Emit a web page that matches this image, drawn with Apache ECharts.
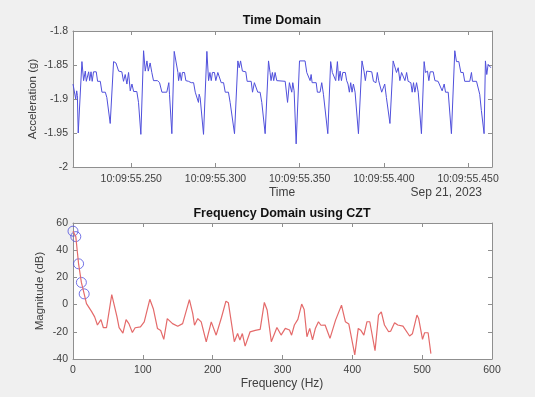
<!DOCTYPE html>
<html>
<head>
<meta charset="utf-8">
<script src="https://cdn.jsdelivr.net/npm/echarts@6/dist/echarts.min.js"></script>
<style>
  html, body { margin: 0; padding: 0; background: #f0f0f0; }
  #chart { width: 535px; height: 397px; }
</style>
</head>
<body>
<div id="chart"></div>
<script>
// time domain: ms after 10:09:55.000 and acceleration (g)
var timeMs = [
  215.4, 216.2, 217.0, 217.6, 218.0, 218.5, 220.7, 221.7, 222.7, 223.3, 224.7, 225.3, 226.1, 226.8, 227.6, 229.2,
  230.0, 231.6, 232.6, 234.6, 235.5, 237.5, 239.5, 240.9, 242.5, 244.4, 245.4, 246.4, 247.4, 248.4, 249.4, 250.4,
  251.4, 253.3, 254.3, 255.7, 257.3, 258.3, 259.3, 260.1, 261.2, 262.2, 263.2, 265.6, 266.8, 268.2, 271.1, 272.3,
  272.7, 274.1, 275.5, 277.7, 278.1, 278.9, 279.7, 280.4, 281.6, 282.4, 284.0, 285.6, 287.0, 288.0, 289.1, 289.9,
  290.3, 290.9, 292.9, 294.9, 295.9, 296.7, 297.5, 298.2, 299.4, 300.2, 301.4, 302.4, 303.4, 304.8, 305.8, 307.7,
  308.7, 311.3, 313.3, 314.1, 314.9, 316.0, 318.0, 318.8, 321.2, 322.0, 323.1, 324.1, 325.1, 326.5, 327.5, 329.5,
  331.5, 332.4, 333.0, 333.8, 334.6, 335.4, 336.4, 341.4, 342.0, 342.8, 343.9, 345.3, 345.9, 346.7, 347.9, 349.9,
  353.2, 354.2, 355.2, 356.2, 356.8, 357.4, 359.8, 360.5, 362.1, 363.1, 364.1, 366.7, 368.4, 369.4, 370.4, 371.4,
  372.4, 373.2, 374.0, 374.8, 375.6, 377.1, 377.9, 378.7, 379.5, 380.3, 381.1, 381.9, 382.9, 384.9, 387.0, 388.2,
  389.0, 389.8, 392.8, 393.8, 395.3, 396.1, 396.9, 397.7, 398.7, 399.7, 400.5, 401.5, 403.6, 405.5, 406.5, 407.5,
  408.5, 409.5, 410.5, 411.5, 412.5, 413.5, 414.4, 416.0, 416.8, 417.6, 418.4, 419.4, 420.4, 422.3, 423.9, 424.7,
  425.9, 426.7, 427.5, 429.3, 430.3, 432.2, 433.2, 434.6, 435.8, 436.6, 438.2, 440.1, 442.1, 443.1, 444.5, 445.7,
  447.1, 448.0, 451.0, 452.0, 452.6, 455.0, 456.0, 456.9, 457.9, 459.5, 460.3, 461.1, 461.9, 463.5
];
var accel = [
  -1.878, -1.876, -1.900, -1.888, -1.895, -1.950, -1.845, -1.873, -1.859, -1.874, -1.860, -1.873, -1.860, -1.874, -1.860, -1.860,
  -1.874, -1.874, -1.890, -1.890, -1.898, -1.936, -1.845, -1.847, -1.859, -1.860, -1.874, -1.864, -1.878, -1.861, -1.888, -1.878,
  -1.889, -1.889, -1.905, -1.952, -1.829, -1.859, -1.844, -1.859, -1.847, -1.861, -1.873, -1.873, -1.876, -1.890, -1.890, -1.876,
  -1.893, -1.951, -1.830, -1.861, -1.873, -1.861, -1.873, -1.861, -1.861, -1.873, -1.874, -1.876, -1.876, -1.890, -1.890, -1.905,
  -1.893, -1.898, -1.952, -1.830, -1.873, -1.861, -1.873, -1.861, -1.861, -1.873, -1.861, -1.861, -1.876, -1.876, -1.890, -1.890,
  -1.905, -1.951, -1.844, -1.854, -1.844, -1.859, -1.860, -1.874, -1.874, -1.890, -1.876, -1.876, -1.890, -1.890, -1.905, -1.951,
  -1.844, -1.861, -1.873, -1.861, -1.873, -1.861, -1.873, -1.874, -1.876, -1.905, -1.876, -1.890, -1.876, -1.888, -1.966, -1.844,
  -1.844, -1.861, -1.861, -1.873, -1.864, -1.876, -1.876, -1.890, -1.890, -1.876, -1.893, -1.951, -1.845, -1.861, -1.861, -1.873,
  -1.845, -1.873, -1.859, -1.873, -1.861, -1.861, -1.873, -1.878, -1.890, -1.876, -1.890, -1.878, -1.890, -1.951, -1.844, -1.859,
  -1.873, -1.859, -1.860, -1.874, -1.876, -1.861, -1.873, -1.874, -1.890, -1.890, -1.878, -1.898, -1.936, -1.844, -1.845, -1.861,
  -1.854, -1.873, -1.861, -1.861, -1.873, -1.861, -1.874, -1.876, -1.890, -1.876, -1.890, -1.876, -1.890, -1.951, -1.845, -1.861,
  -1.859, -1.873, -1.860, -1.860, -1.873, -1.874, -1.876, -1.888, -1.878, -1.890, -1.890, -1.951, -1.829, -1.845, -1.845, -1.861,
  -1.861, -1.874, -1.874, -1.861, -1.874, -1.874, -1.876, -1.893, -1.917, -1.951, -1.844, -1.864, -1.849, -1.854
];
var timeTicks = [250, 300, 350, 400, 450];

// frequency domain (CZT): Hz and dB
var freqHz = [
  0, 4, 8, 12, 16, 19.3, 26.5, 31, 35, 40, 43.5, 48, 55.5, 63, 66, 71.5, 76, 80, 85, 89, 96.6, 102, 110, 115, 121,
  125.6, 130, 135, 142.5, 150, 157, 166.7, 171.5, 174, 178.7, 183.6, 190.8, 198, 205, 212.6, 219, 222.5, 231, 235.7,
  239, 242.5, 246.5, 253.6, 261, 268, 274, 278, 284, 292, 298, 304, 310, 313, 317, 322, 327.5, 331, 335, 339, 343,
  347, 351.5, 355, 361, 368, 376, 384.5, 390, 395, 403.5, 408.5, 412, 416.5, 421, 425, 432.5, 437.5, 441.5, 446,
  452, 455, 460.5, 465, 472.5, 482, 486, 492.5, 495, 500.5, 503.5, 508.5, 512.5
];
var magDb = [
  54, 50, 30, 16.3, 7.9, 0.7, -5, -9, -15, -11, -17, -17, 7.3, -9, -17, -21, -11, -14, -20.5, -17, -16.4, -12.7, 3.9, -3, -17.6,
  -19, -25.6, -10.3, -14, -15.9, -14, 3.7, -6.6, -15.2, -10.3, -12.7, -27.4, -12.7, -22.5, -9.5, 2.5, 1.3, -27.3, -21.3,
  -26, -21.3, -30.5, -20, -19, -18.2, 1.6, -4, -27.3, -16.8, -22.4, -17.5, -18.7, -22.5, -15, -10.9, 0.4, -3.6, -23.6, -17.5, -26,
  -17.6, -12.6, -15.2, -15, -24.8, -11.4, -0.4, -12.6, -14.3, -37, -17.5, -18.8, -22.4, -12.6, -12.6, -33.9, -7.7, -5.3, -15,
  -20, -19.5, -13.3, -15, -15.8, -23.1, -21.5, -7.7, -10.3, -25.6, -20.7, -20.7, -36
];
var markedCount = 5; // first CZT bins circled

var gray = '#8f8f8f';
var textCol = '#404040';
var font = 'Liberation Sans';

function boxAxis(extra) {
  var a = {
    axisLine: { show: true, onZero: false, lineStyle: { color: gray, width: 1 } },
    axisTick: { show: true, inside: true, length: 4, lineStyle: { color: gray } },
    axisLabel: { show: false },
    splitLine: { show: false }
  };
  for (var k in extra) a[k] = extra[k];
  return a;
}

var chart = echarts.init(document.getElementById('chart'));

var timeData = timeMs.map(function (t, i) { return [t, accel[i]]; });
var freqData = freqHz.map(function (f, i) { return [f, magDb[i]]; });

var xTimeMain = boxAxis({ type: 'value', gridIndex: 0, position: 'bottom', min: 215.4, max: 464.2 });
xTimeMain.axisTick.customValues = timeTicks;
xTimeMain.axisLabel = {
  show: true, customValues: timeTicks, margin: 7, color: textCol, fontFamily: font, fontSize: 10.5,
  formatter: function (v) { return '10:09:55.' + v; }
};
var xTimeTop = boxAxis({ type: 'value', gridIndex: 0, position: 'top', min: 215.4, max: 464.2 });
xTimeTop.axisTick.customValues = timeTicks;

var yAccLeft = boxAxis({ type: 'value', gridIndex: 0, position: 'left', min: -2, max: -1.8, interval: 0.05 });
yAccLeft.axisLabel = { show: true, margin: 5, color: textCol, fontFamily: font, fontSize: 10.5 };
var yAccRight = boxAxis({ type: 'value', gridIndex: 0, position: 'right', min: -2, max: -1.8, interval: 0.05 });

var xFreq = boxAxis({ type: 'value', gridIndex: 1, position: 'bottom', min: 0, max: 600, interval: 100 });
xFreq.axisLabel = { show: true, margin: 6, color: textCol, fontFamily: font, fontSize: 10.5 };
var xFreqTop = boxAxis({ type: 'value', gridIndex: 1, position: 'top', min: 0, max: 600, interval: 100 });

var yMag = boxAxis({ type: 'value', gridIndex: 1, position: 'left', min: -40, max: 60, interval: 20 });
yMag.axisLabel = { show: true, margin: 5, color: textCol, fontFamily: font, fontSize: 10.5 };
var yMagRight = boxAxis({ type: 'value', gridIndex: 1, position: 'right', min: -40, max: 60, interval: 20 });

var option = {
  backgroundColor: '#f0f0f0',
  animation: false,
  grid: [
    { left: 73, top: 31, right: 43, bottom: 230, show: true, backgroundColor: '#ffffff', borderWidth: 0 },
    { left: 73, top: 223, right: 43, bottom: 38, show: true, backgroundColor: '#ffffff', borderWidth: 0 }
  ],
  xAxis: [xTimeMain, xTimeTop, xFreq, xFreqTop],
  yAxis: [yAccLeft, yAccRight, yMag, yMagRight],
  graphic: [
    { type: 'text', x: 282, y: 21, style: { text: 'Time Domain', fill: '#111', font: 'bold 12.5px "Liberation Sans"', textAlign: 'center', textVerticalAlign: 'middle' } },
    { type: 'text', x: 282, y: 193, style: { text: 'Time', fill: textCol, font: '12px "Liberation Sans"', textAlign: 'center', textVerticalAlign: 'middle' } },
    { type: 'text', x: 482, y: 193, style: { text: 'Sep 21, 2023', fill: textCol, font: '12px "Liberation Sans"', textAlign: 'right', textVerticalAlign: 'middle' } },
    { type: 'text', x: 33, y: 99, rotation: Math.PI / 2, style: { text: 'Acceleration (g)', fill: textCol, font: '11.5px "Liberation Sans"', textAlign: 'center', textVerticalAlign: 'middle' } },
    { type: 'text', x: 282, y: 214, style: { text: 'Frequency Domain using CZT', fill: '#111', font: 'bold 12.5px "Liberation Sans"', textAlign: 'center', textVerticalAlign: 'middle' } },
    { type: 'text', x: 282, y: 384, style: { text: 'Frequency (Hz)', fill: textCol, font: '12px "Liberation Sans"', textAlign: 'center', textVerticalAlign: 'middle' } },
    { type: 'text', x: 40, y: 291, rotation: Math.PI / 2, style: { text: 'Magnitude (dB)', fill: textCol, font: '11.5px "Liberation Sans"', textAlign: 'center', textVerticalAlign: 'middle' } }
  ],
  series: [
    {
      type: 'line', xAxisIndex: 0, yAxisIndex: 0, data: timeData,
      showSymbol: false, lineStyle: { color: '#5050dc', width: 1 }
    },
    {
      type: 'line', xAxisIndex: 2, yAxisIndex: 2, data: freqData,
      showSymbol: false, lineStyle: { color: '#e46a6a', width: 1.2 }
    },
    {
      type: 'scatter', xAxisIndex: 2, yAxisIndex: 2, data: freqData.slice(0, markedCount),
      symbol: 'circle', symbolSize: 10,
      itemStyle: { color: 'rgba(0,0,0,0)', borderColor: '#5050e0', borderWidth: 1 }
    }
  ]
};
chart.setOption(option);
</script>
</body>
</html>
